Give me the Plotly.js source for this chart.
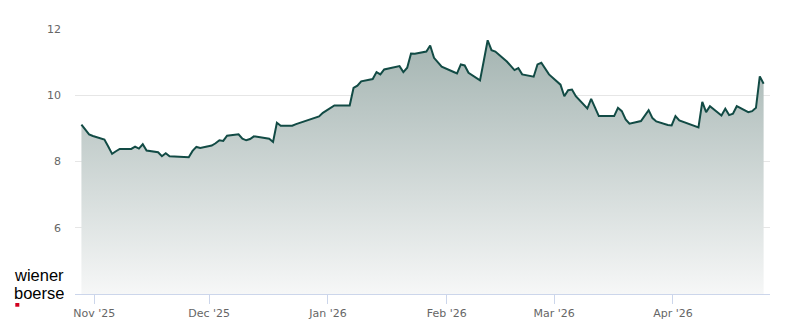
<!DOCTYPE html>
<html>
<head>
<meta charset="utf-8">
<script src="https://cdn.plot.ly/plotly-3.0.1.min.js"></script>
<style>html,body{margin:0;padding:0;background:#fff;}#chart{width:800px;height:324px;}</style>
</head>
<body>
<div id="chart"></div>
<script>
// Trading dates (closing prices)
const dates = [
  '2025-10-28','2025-10-29','2025-10-30','2025-10-31',
  '2025-11-03','2025-11-04','2025-11-05','2025-11-06','2025-11-07',
  '2025-11-10','2025-11-11','2025-11-12','2025-11-13','2025-11-14',
  '2025-11-17','2025-11-18','2025-11-19','2025-11-20','2025-11-21',
  '2025-11-24','2025-11-25','2025-11-26','2025-11-27','2025-11-28',
  '2025-12-01','2025-12-02','2025-12-03','2025-12-04','2025-12-05',
  '2025-12-08','2025-12-09','2025-12-10','2025-12-11','2025-12-12',
  '2025-12-15','2025-12-16','2025-12-17','2025-12-18','2025-12-19',
  '2025-12-22','2025-12-23','2025-12-29','2025-12-30',
  '2026-01-02','2026-01-05','2026-01-06','2026-01-07','2026-01-08','2026-01-09',
  '2026-01-12','2026-01-13','2026-01-14','2026-01-15','2026-01-16',
  '2026-01-19','2026-01-20','2026-01-21','2026-01-22','2026-01-23',
  '2026-01-26','2026-01-27','2026-01-28','2026-01-29','2026-01-30',
  '2026-02-02','2026-02-03','2026-02-04','2026-02-05','2026-02-06',
  '2026-02-09','2026-02-10','2026-02-11','2026-02-12','2026-02-13',
  '2026-02-16','2026-02-17','2026-02-18','2026-02-19','2026-02-20',
  '2026-02-23','2026-02-24','2026-02-25','2026-02-26','2026-02-27',
  '2026-03-02','2026-03-03','2026-03-04','2026-03-05','2026-03-06',
  '2026-03-09','2026-03-10','2026-03-11','2026-03-12','2026-03-13',
  '2026-03-16','2026-03-17','2026-03-18','2026-03-19','2026-03-20',
  '2026-03-23','2026-03-24','2026-03-25','2026-03-26','2026-03-27',
  '2026-03-30','2026-03-31','2026-04-01','2026-04-02',
  '2026-04-07','2026-04-08','2026-04-09','2026-04-10',
  '2026-04-13','2026-04-14','2026-04-15','2026-04-16','2026-04-17',
  '2026-04-20','2026-04-21','2026-04-22','2026-04-23','2026-04-24'
];
const prices = [
  9.11, 8.95, 8.82, 8.77,
  8.66, 8.45, 8.23, 8.31, 8.38,
  8.38, 8.45, 8.39, 8.52, 8.33,
  8.28, 8.16, 8.25, 8.16, 8.15,
  8.14, 8.13, 8.32, 8.44, 8.41,
  8.48, 8.55, 8.64, 8.62, 8.78,
  8.82, 8.69, 8.64, 8.68, 8.76,
  8.71, 8.69, 8.59, 9.17, 9.08,
  9.08, 9.13, 9.36, 9.47,
  9.69, 9.69, 9.69, 10.22, 10.29, 10.42,
  10.49, 10.70, 10.63, 10.78, 10.81,
  10.88, 10.70, 10.83, 11.26, 11.25,
  11.32, 11.50, 11.13, 10.98, 10.86,
  10.71, 10.66, 10.93, 10.90, 10.68,
  10.45, 11.05, 11.66, 11.36, 11.32,
  11.02, 10.88, 10.76, 10.82, 10.63,
  10.56, 10.93, 10.98, 10.80, 10.63,
  10.32, 9.97, 10.15, 10.17, 9.97,
  9.60, 9.89, 9.63, 9.37, 9.37,
  9.37, 9.62, 9.52, 9.27, 9.14,
  9.22, 9.40, 9.55, 9.31, 9.21,
  9.10, 9.09, 9.37, 9.24,
  9.03, 9.80, 9.49, 9.67,
  9.39, 9.59, 9.40, 9.44, 9.67,
  9.49, 9.52, 9.62, 10.57, 10.35
];
const yTicks = [6, 8, 10, 12];
const closeTime = ' 16:00';

const trace = {
  type: 'scatter',
  mode: 'lines',
  x: dates.map(d => d + closeTime),
  y: prices,
  line: {color: '#124b45', width: 2},
  fill: 'tozeroy',
  fillgradient: {
    type: 'vertical',
    start: 4,
    stop: 12,
    colorscale: [[0, 'rgb(246,247,247)'], [1, 'rgb(160,177,174)']]
  },
  hoverinfo: 'skip'
};

const logoFont = {family: 'Liberation Sans, Arial, sans-serif', size: 16.5, color: '#000000'};

const layout = {
  width: 800, height: 324,
  margin: {l: 75, r: 30, t: 29, b: 30},
  paper_bgcolor: '#ffffff',
  plot_bgcolor: '#ffffff',
  showlegend: false,
  font: {family: 'DejaVu Sans, sans-serif', size: 11, color: '#666666'},
  xaxis: {
    type: 'date',
    range: ['2025-10-26 23:45', '2026-04-26 08:00'],
    tick0: '2025-11-01',
    dtick: 'M1',
    tickformat: "%b '%y",
    showgrid: false,
    zeroline: false,
    showline: true,
    linecolor: '#ccd6eb',
    linewidth: 1,
    ticks: 'outside',
    ticklen: 9,
    tickwidth: 1,
    tickcolor: '#ccd6eb',
    tickfont: {family: 'DejaVu Sans, sans-serif', size: 11, color: '#666666'},
    fixedrange: true
  },
  yaxis: {
    range: [4, 12],
    tickvals: yTicks,
    ticktext: yTicks.map(String),
    showgrid: true,
    gridcolor: '#e6e6e6',
    gridwidth: 1,
    zeroline: false,
    showline: false,
    ticks: '',
    ticklabelstandoff: 13,
    tickfont: {family: 'DejaVu Sans, sans-serif', size: 11, color: '#666666'},
    fixedrange: true
  },
  annotations: [
    {xref: 'paper', yref: 'paper', x: -0.0891, y: 0.073, xanchor: 'left', yanchor: 'middle',
     text: 'wiener', showarrow: false, font: logoFont, height: 15, borderpad: 0, valign: 'middle'},
    {xref: 'paper', yref: 'paper', x: -0.0891, y: 0.006, xanchor: 'left', yanchor: 'middle',
     text: 'boerse', showarrow: false, font: logoFont, height: 15, borderpad: 0, valign: 'middle'}
  ],
  shapes: [
    {type: 'rect', xref: 'paper', yref: 'paper', x0: -0.0859, x1: -0.0801, y0: -0.048, y1: -0.034,
     fillcolor: '#d2001e', line: {width: 0}}
  ]
};

Plotly.newPlot('chart', [trace], layout, {staticPlot: true, displayModeBar: false});
</script>
</body>
</html>
